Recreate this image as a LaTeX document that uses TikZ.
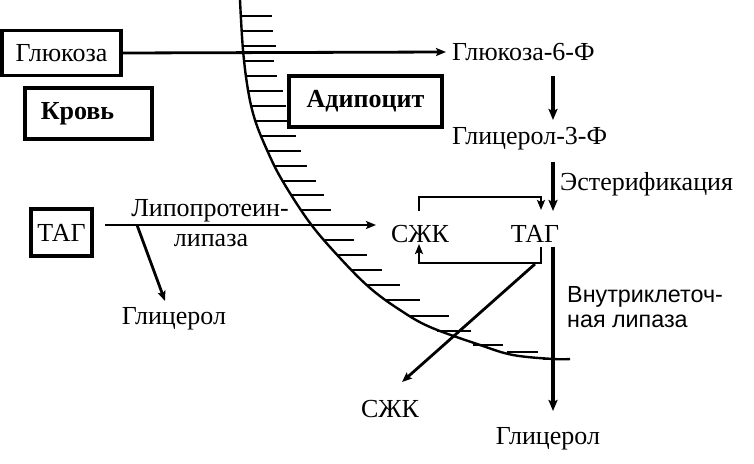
\documentclass[tikz,border=0pt]{standalone}
\usepackage{fontspec}
\setmainfont{Liberation Serif}
\setsansfont{Liberation Sans}
\usetikzlibrary{arrows.meta}
\begin{document}
\begin{tikzpicture}[x=1pt,y=-1pt,
  txt/.style={font=\fontsize{26}{30}\selectfont, inner sep=0pt},
  btxt/.style={font=\fontsize{26}{30}\selectfont\bfseries, inner sep=0pt},
  stxt/.style={font=\fontsize{23.3}{25}\selectfont\sffamily, inner sep=0pt},
  boxed/.style={draw, line width=3.2pt},
  arr/.style={line width=2.8pt, -{Stealth[length=10pt,width=8pt,inset=2pt]}},
  tarr/.style={line width=3.8pt, -{Stealth[length=11pt,width=9pt,inset=2pt]}},
  hatch/.style={line width=2.6pt}
]
\useasboundingbox (0,0) rectangle (754,463);

% membrane curve
\draw[line width=2.4pt] plot[smooth, tension=0.6] coordinates {(240,0) (243,50) (248,90) (255,120) (267,150) (282,180) (310,223) (340,258) (370,288) (400,310) (430,327) (480,345) (513,355) (553,359) (570,359)};
\foreach \y/\a/\b in {16/241/272, 31/242/273, 46/243/276, 61/244/274, 76/246/277, 91/248/283, 106/251/286, 121/255/289, 136/261/296, 151/267/301, 166/274/307, 181/282/316, 195/291/324, 210/300/331, 240/325/354, 255/338/367, 270/352/382, 285/367/400, 300/386/420, 316/408/449, 331/437/471, 345/473/503, 352/507/538, 359/543/570}
  \draw[hatch] (\a,\y) -- (\b,\y);

% boxes and texts
\node[boxed, txt, minimum width=119pt, minimum height=45pt] (glubox) at (61.5,53) {Глюкоза};
\node[boxed, minimum width=127pt, minimum height=51pt] (krovbox) at (88.5,113.5) {};
\node[btxt] (krov) at (77.5,114) {Кровь};
\node[boxed, btxt, minimum width=153pt, minimum height=51pt] (adibox) at (365.5,101.5) {Адипоцит};
\node[boxed, txt, minimum width=61pt, minimum height=47pt] (tagbox) at (61.5,232.5) {ТАГ};

\node[txt, anchor=west] (glu6) at (452,52) {Глюкоза-6-Ф};
\node[txt, anchor=west] (gly3) at (452,139) {Глицерол-3-Ф};
\node[txt, anchor=west] (ester) at (560,184) {Эстерификация};
\node[txt] (szk) at (420,234) {СЖК};
\node[txt] (tag) at (535,234) {ТАГ};
\node[stxt, anchor=west, align=left] (vnutr) at (567,307) {Внутриклеточ-\\ная липаза};
\node[txt] (lipo1) at (210,211) {Липопротеин-};
\node[txt] (lipo2) at (211,240) {липаза};
\node[txt] (glyL) at (174,319) {Глицерол};
\node[txt] (szkB) at (390,409) {СЖК};
\node[txt] (glyB) at (548,439) {Глицерол};

% connector points
\coordinate (c1) at (553,76);  \coordinate (c2) at (553,120);
\coordinate (c3) at (553,162); \coordinate (c4) at (553,211);
\coordinate (b1) at (419,211); \coordinate (b2) at (419,197);
\coordinate (b3) at (541,197); \coordinate (b4) at (541,210);
\coordinate (d1) at (541,247); \coordinate (d2) at (541,263);
\coordinate (d3) at (419,263); \coordinate (d4) at (419,244);
\coordinate (t1) at (553,247); \coordinate (t2) at (553,411);
\coordinate (s1) at (535,264); \coordinate (s2) at (402,382);
\coordinate (l1) at (105,225); \coordinate (l2) at (376,225);
\coordinate (g1) at (137,225); \coordinate (g2) at (165,301);

% connectors
\draw[arr] (glubox.east) -- ([xshift=-6pt]glu6.west);
\draw[tarr] (c1) -- (c2);
\draw[tarr] (c3) -- (c4);
\draw[arr] (b1) -- (b2) -- (b3) -- (b4);
\draw[arr] (d1) -- (d2) -- (d3) -- (d4);
\draw[tarr] (t1) -- (t2);
\draw[arr] (s1) -- (s2);
\draw[arr] (l1) -- (l2);
\draw[arr] (g1) -- (g2);
\end{tikzpicture}
\end{document}
